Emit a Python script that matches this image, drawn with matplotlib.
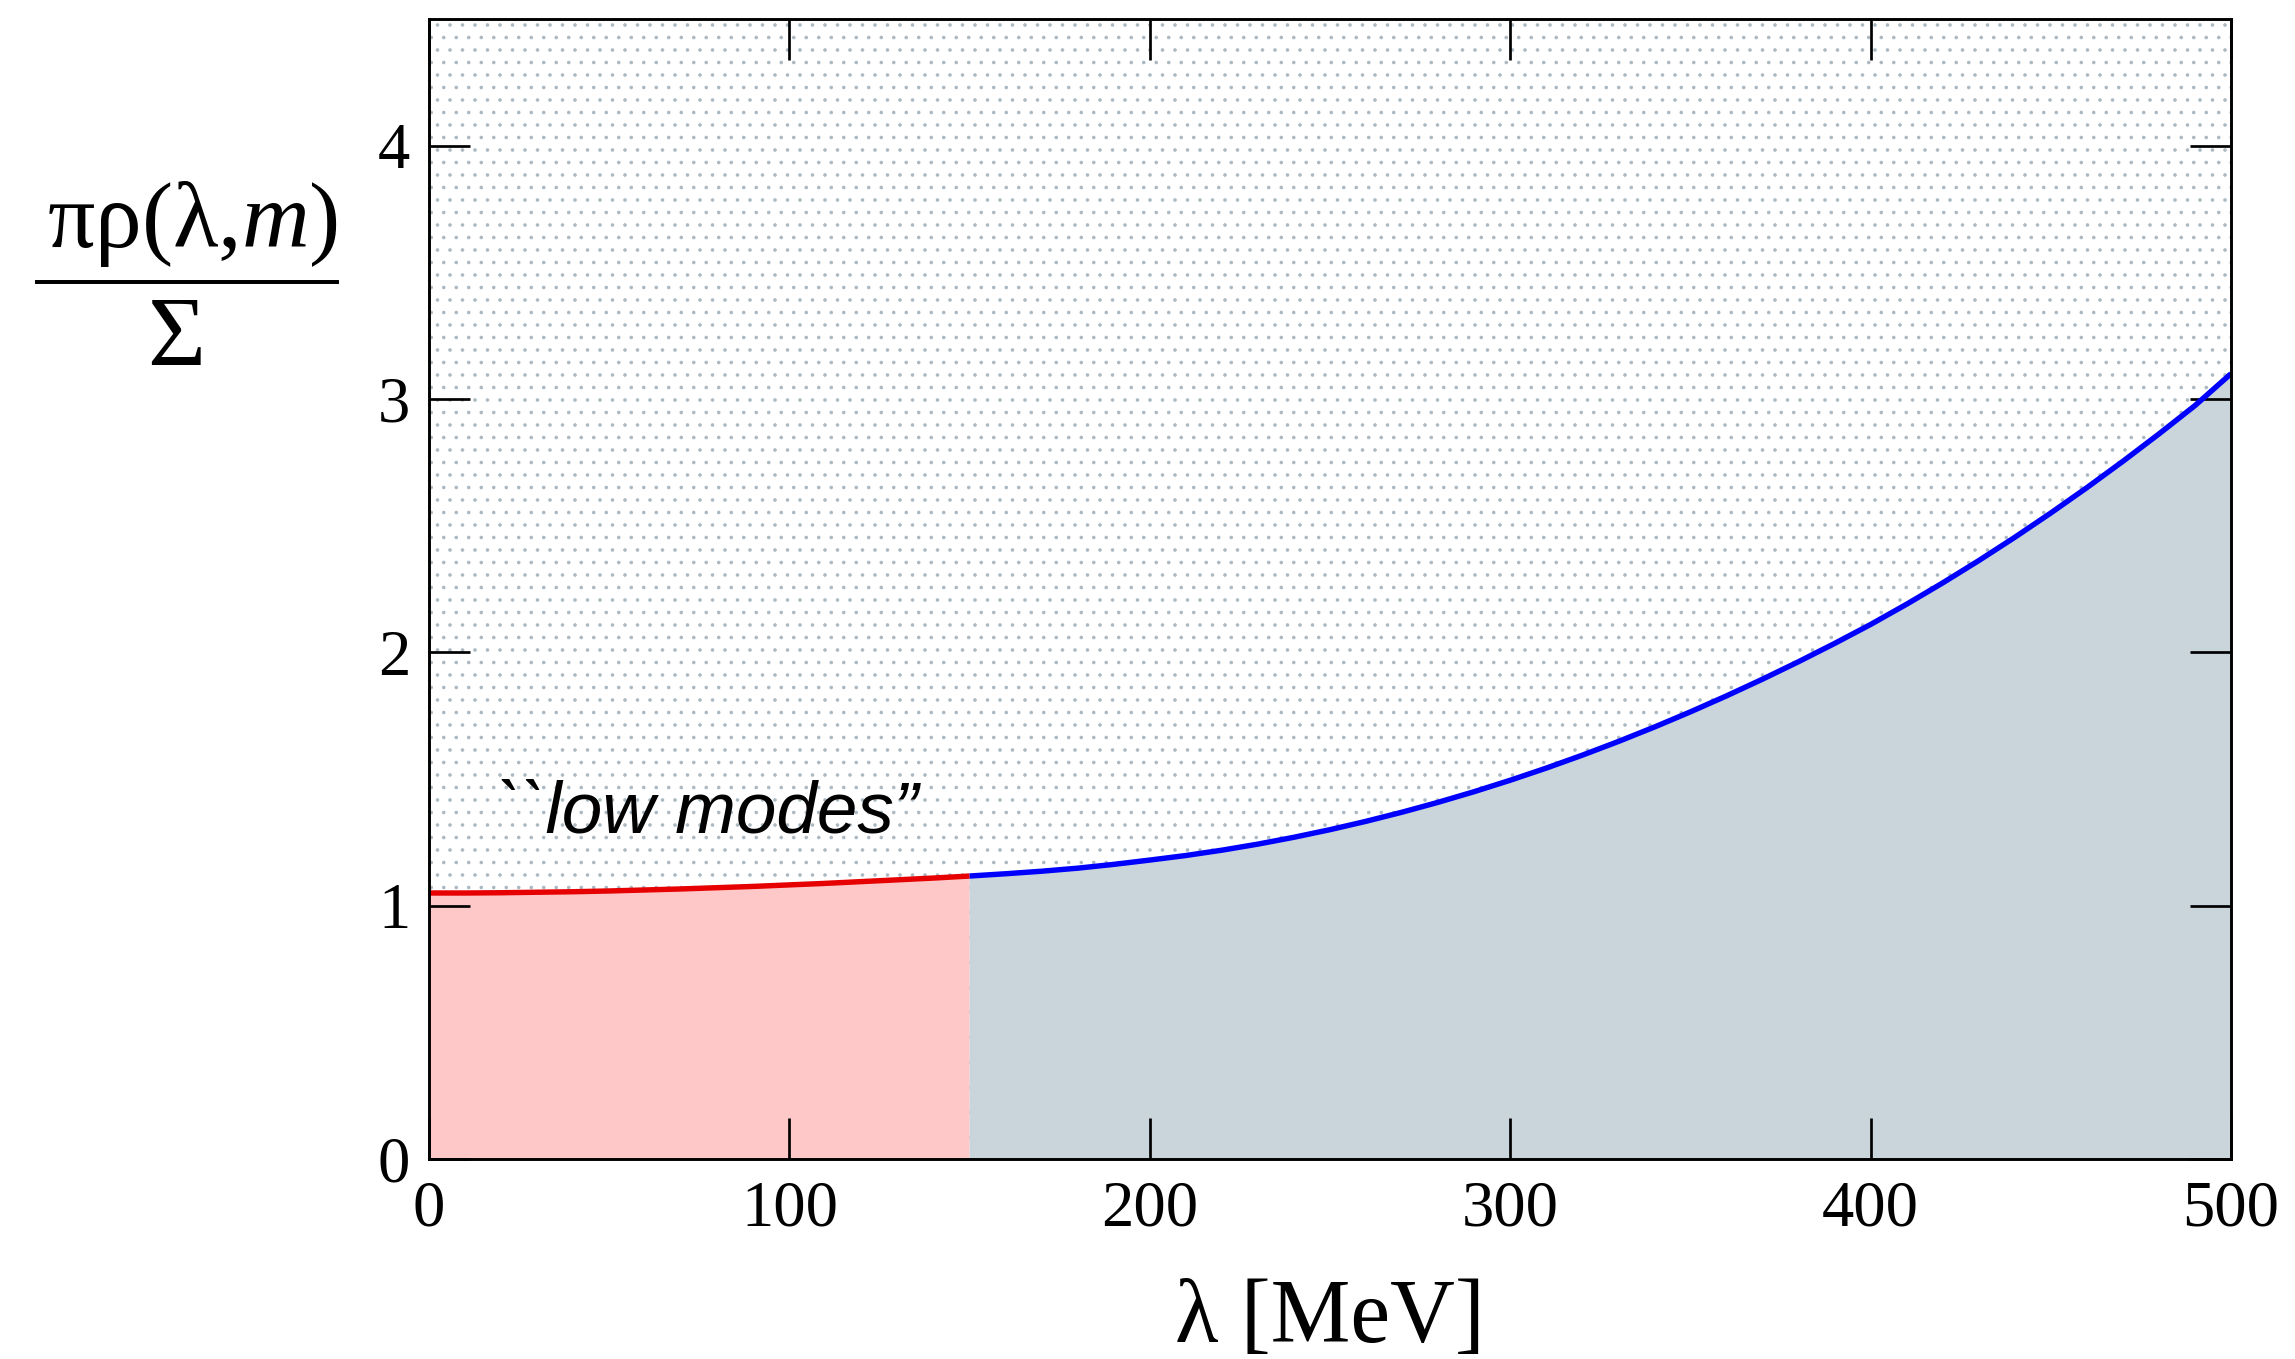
import matplotlib
matplotlib.use("Agg")
import matplotlib.pyplot as plt
from matplotlib.patches import Rectangle
from matplotlib.lines import Line2D

# ---- data ----
lam_low = [0, 10, 20, 30, 40, 50, 60, 70, 80, 90, 100, 110, 120, 130, 140, 150]
rho_low = [1.050, 1.050, 1.051, 1.053, 1.055, 1.058, 1.062, 1.066, 1.071, 1.076,
           1.082, 1.088, 1.095, 1.102, 1.109, 1.117]
lam_high = [150, 160, 170, 180, 190, 200, 210, 220, 230, 240, 250, 260, 270, 280, 290,
            300, 310, 320, 330, 340, 350, 360, 370, 380, 390, 400, 410, 420, 430, 440,
            450, 460, 470, 480, 490, 500]
rho_high = [1.117, 1.126, 1.136, 1.148, 1.163, 1.180, 1.198, 1.219, 1.243, 1.270,
            1.300, 1.333, 1.369, 1.408, 1.450, 1.495, 1.543, 1.594, 1.648, 1.705,
            1.765, 1.828, 1.894, 1.963, 2.035, 2.110, 2.190, 2.274, 2.362, 2.454,
            2.550, 2.650, 2.754, 2.862, 2.974, 3.100]
x_ticks = [0, 100, 200, 300, 400, 500]
y_ticks = [0, 1, 2, 3, 4]
annotation = "``low modes\u201d"
ylabel_num = r'$\mathrm{\pi\rho(\lambda{,}}m\mathrm{)}$'
ylabel_den = '\u03a3'

plt.rcParams['mathtext.fontset'] = 'custom'
plt.rcParams['mathtext.rm'] = 'Liberation Serif'
plt.rcParams['mathtext.it'] = 'Liberation Serif:italic'
plt.rcParams['hatch.linewidth'] = 0.5

W, H = 2295, 1359
DPI = 150
fig = plt.figure(figsize=(W / DPI, H / DPI), dpi=DPI)
ax = fig.add_axes([429 / W, 1 - 1159 / H, (2231 - 429) / W, (1159 - 19) / H])

# dotted background of the plotting area
bg = Rectangle((0, 0), 1, 1, transform=ax.transAxes, facecolor='white',
               edgecolor='#aab8c2', hatch='..', linewidth=0, zorder=0.5)
ax.add_patch(bg)

ax.fill_between(lam_low, 0, rho_low, facecolor='#ffc8c8', edgecolor='none', zorder=1)
ax.fill_between(lam_high, 0, rho_high, facecolor='#c9d5db', edgecolor='none', zorder=1)
ax.plot(lam_low, rho_low, color='#e60000', lw=2.6, zorder=3, solid_capstyle='butt')
ax.plot(lam_high, rho_high, color='#0000ff', lw=2.6, zorder=3, solid_capstyle='butt')

ax.set_xlim(0, 500)
ax.set_ylim(0, 4.5)
ax.set_xticks(x_ticks)
ax.set_yticks(y_ticks)
ax.set_xticklabels([str(v) for v in x_ticks])
ax.set_yticklabels([str(v) for v in y_ticks])
ax.tick_params(direction='in', length=19.7, width=1.3, top=True, right=True,
               labelsize=31, colors='black')
ax.tick_params(axis='x', pad=10)
ax.tick_params(axis='y', pad=9)
for lab in ax.get_xticklabels() + ax.get_yticklabels():
    lab.set_fontfamily('Liberation Serif')
for sp in ax.spines.values():
    sp.set_linewidth(1.4)
    sp.set_zorder(5)

ax.set_xlabel('\u03bb [MeV]', fontsize=43, fontfamily='Liberation Serif', labelpad=19)

# y label as a stacked fraction
fig.text(193 / W, 1 - 247 / H, ylabel_num, fontsize=45, ha='center', va='baseline')
fig.add_artist(Line2D([37 / W, 337 / W], [1 - 282 / H, 1 - 282 / H],
                      transform=fig.transFigure, color='black', lw=1.9))
fig.text(176 / W, 1 - 365 / H, ylabel_den, fontsize=48, fontfamily='Liberation Serif',
         ha='center', va='baseline')

ax.text(19, 1.29, annotation, fontsize=35, fontstyle='italic',
        fontfamily='Liberation Sans', ha='left', va='baseline', zorder=4)

fig.savefig('out.png', dpi=DPI, facecolor='white')
